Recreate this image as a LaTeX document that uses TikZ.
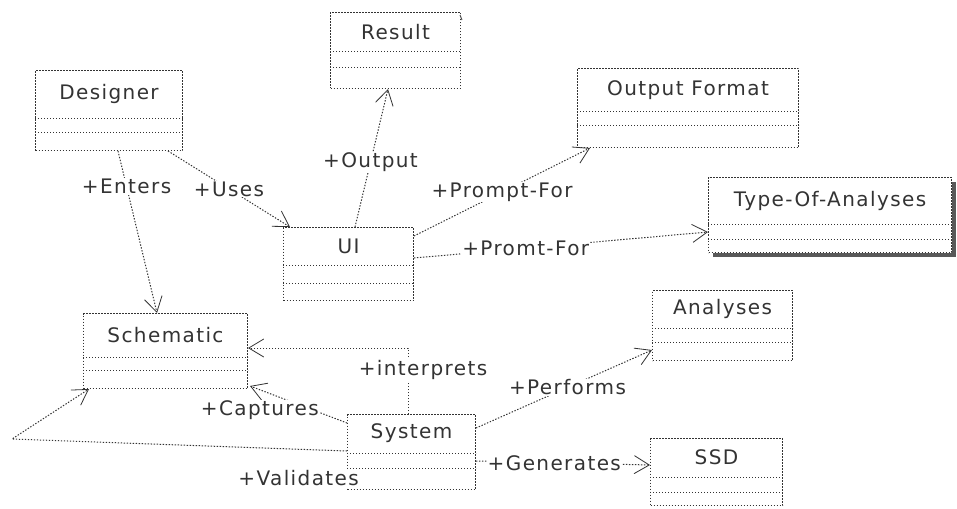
\documentclass[tikz,border=0pt]{standalone}
\usepackage{fontspec}
\newfontfamily\umlfont[LetterSpace=7]{DejaVu Sans}
\usetikzlibrary{arrows.meta}
\tikzset{
  dotline/.style={draw=black!80, line width=1pt, dash pattern=on 1.4pt off 1.6pt},
  cls/.style={dotline, fill=white, inner sep=0pt, rectangle},
  ttl/.style={font=\umlfont\fontsize{20}{22}\selectfont, text=black!80, inner sep=1pt},
  lab/.style={font=\umlfont\fontsize{20}{22}\selectfont, text=black!80, inner sep=1pt, fill=white},
  conn/.style={dotline, -{Straight Barb[length=15pt,width=18pt,line width=0.8pt]}}
}
\newcommand{\umlclass}[8]{%
  \node[cls, minimum width=#4pt, minimum height=#5pt, anchor=north west] (#1) at (#2,#3) {};
  \node[ttl] (#1-title) at ([yshift={-#6pt/2}]#1.north) {#8};
  \draw[dotline] ([yshift=-#6pt]#1.north west) -- ([yshift=-#6pt]#1.north east);
  \draw[dotline] ([yshift=-#7pt]#1.north west) -- ([yshift=-#7pt]#1.north east);
}
\begin{document}
\begin{tikzpicture}[x=1pt,y=-1pt]
\useasboundingbox[fill=white] (0,0) rectangle (957,508);
% shadow of Type-Of-Analyses
\fill[black!65] (713,182) rectangle (956,257);
\umlclass{result}{330}{12}{130}{76}{40}{56}{Result}
\umlclass{designer}{35}{70}{147}{80}{48}{62}{Designer}
\umlclass{outfmt}{577}{68}{221}{79}{44}{57}{Output Format}
\umlclass{toa}{708}{177}{243}{75}{47}{62}{Type-Of-Analyses}
\umlclass{ui}{283}{227}{130}{73}{38}{56}{UI}
\umlclass{schem}{83}{313}{164}{75}{44}{57}{Schematic}
\umlclass{analyses}{652}{290}{140}{70}{38}{52}{Analyses}
\umlclass{system}{347}{414}{128}{75}{39}{54}{System}
\umlclass{ssd}{650}{438}{132}{67}{39}{54}{SSD}
% small mark
\draw[black!70, line width=1pt] (460,15) -- (462,20);
% connectors
\draw[conn] ([xshift=83pt]designer.south west) -- ([xshift=74pt]schem.north west)
  node[lab, pos=0.22] (l-enters) {+Enters};
\draw[conn] ([xshift=133pt]designer.south west) -- ([xshift=7pt]ui.north west)
  node[lab, pos=0.5] (l-uses) {+Uses};
\draw[conn] ([xshift=72pt]ui.north west) -- ([xshift=58pt]result.south west)
  node[lab, pos=0.47] (l-output) {+Output};
\draw[conn] ([yshift=-9pt]ui.north east) -- ([xshift=13pt]outfmt.south west)
  node[lab, pos=0.5] (l-prompt) {+Prompt-For};
\draw[conn] ([yshift=-31pt]ui.north east) -- ([yshift=-55pt]toa.north west)
  node[lab, pos=0.38] (l-promt) {+Promt-For};
\draw[conn] ([xshift=61pt]system.north west) |- ([yshift=-35pt]schem.north east);
\node[lab] (l-interp) at (423,370) {+interprets};
\coordinate (capend) at (250,386);
\draw[conn] ([yshift=-9pt]system.north west) -- (capend);
\node[lab, anchor=east] (l-capt) at (320,410) {+Captures};
\coordinate (loopleft) at (12,439);
\draw[conn] ([yshift=-37pt]system.north west) -- (loopleft) -- ([xshift=6pt]schem.south west);
\draw[conn] ([yshift=-14pt]system.north east) -- ([yshift=-60pt]analyses.north west)
  node[lab, pos=0.52] (l-perf) {+Performs};
\draw[conn] ([yshift=-47pt]system.north east) -- ([yshift=-27pt]ssd.north west)
  node[lab, pos=0.45] (l-gen) {+Generates};
\node[lab, anchor=east] (l-valid) at (360,478) {+Validates};
\end{tikzpicture}
\end{document}
